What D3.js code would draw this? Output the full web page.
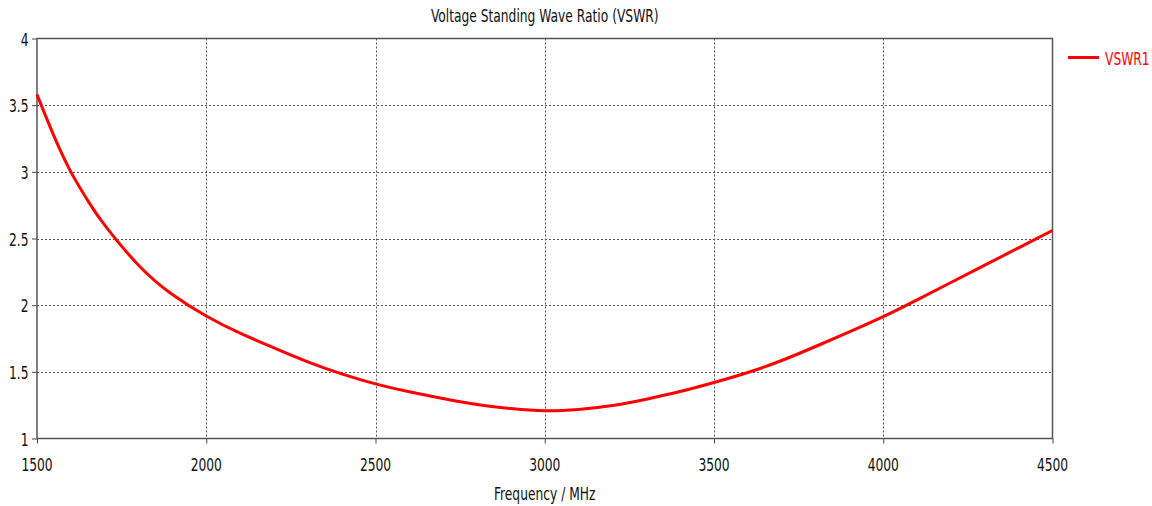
<!DOCTYPE html>
<html>
<head>
<meta charset="utf-8">
<script src="https://cdn.jsdelivr.net/npm/d3@7"></script>
<style>
  body { margin: 0; background: #fff; }
  text { font-family: "DejaVu Sans Condensed", "DejaVu Sans", sans-serif; }
</style>
</head>
<body>
<div id="chart"></div>
<script>
// values
const freqs = [1500, 1550, 1600, 1650, 1700, 1800, 1900, 2000, 2100, 2200, 2300, 2400, 2500,
               2600, 2700, 2800, 2900, 3000, 3100, 3200, 3300, 3400, 3500,
               3600, 3700, 3800, 3900, 4000, 4100, 4200, 4300, 4400, 4500];
const vswr1 = [3.58, 3.27, 3.00, 2.785, 2.60, 2.30, 2.08, 1.919, 1.79, 1.68, 1.575, 1.485, 1.41,
               1.35, 1.30, 1.255, 1.225, 1.208, 1.218, 1.247, 1.295, 1.352, 1.42,
               1.495, 1.585, 1.69, 1.80, 1.914, 2.04, 2.17, 2.30, 2.43, 2.56];
const xTicks = [1500, 2000, 2500, 3000, 3500, 4000, 4500];
const yTicks = [1, 1.5, 2, 2.5, 3, 3.5, 4];
const seriesName = "VSWR1";
const title = "Voltage Standing Wave Ratio (VSWR)";
const xLabel = "Frequency / MHz";

const width = 1152, height = 506;
const margin = { top: 38.5, right: 99.5, bottom: 67.5, left: 37 };
const fontSize = 17.5, squeeze = 0.78;

const svg = d3.select("#chart").append("svg")
    .attr("width", width)
    .attr("height", height);

const x = d3.scaleLinear().domain([1500, 4500]).range([margin.left, width - margin.right]);
const y = d3.scaleLinear().domain([1, 4]).range([height - margin.bottom, margin.top]);

// squeezed text, the reference glyphs are narrow and tall
function label(g, tx, ty, str, anchor, color) {
    return g.append("text")
        .attr("transform", `translate(${tx},${ty}) scale(${squeeze},1)`)
        .attr("text-anchor", anchor)
        .attr("font-size", fontSize)
        .attr("fill", color || "#111")
        .text(str);
}

// grid
const grid = svg.append("g").attr("stroke", "#555").attr("stroke-width", 1)
    .attr("stroke-dasharray", "2,2");
grid.selectAll(".vg").data(xTicks.slice(1, -1)).enter().append("line")
    .attr("x1", d => Math.round(x(d)) + 0.5).attr("x2", d => Math.round(x(d)) + 0.5)
    .attr("y1", y(4)).attr("y2", y(1));
grid.selectAll(".hg").data(yTicks.slice(1, -1)).enter().append("line")
    .attr("y1", d => Math.round(y(d)) + 0.5).attr("y2", d => Math.round(y(d)) + 0.5)
    .attr("x1", x(1500)).attr("x2", x(4500));

// axes
const xAxis = d3.axisBottom(x).tickValues(xTicks).tickSize(5).tickFormat("");
const yAxis = d3.axisLeft(y).tickValues(yTicks).tickSize(5).tickFormat("");

const gx = svg.append("g").attr("transform", `translate(0,${y(1)})`).call(xAxis);
const gy = svg.append("g").attr("transform", `translate(${x(1500)},0)`).call(yAxis);
[gx, gy].forEach(g => {
    g.select(".domain").remove();
    g.selectAll(".tick line").attr("stroke", "#444");
});

// frame
svg.append("rect")
    .attr("x", x(1500)).attr("y", y(4))
    .attr("width", x(4500) - x(1500)).attr("height", y(1) - y(4))
    .attr("fill", "none").attr("stroke", "#555").attr("stroke-width", 1.5);

xTicks.forEach(d => label(svg, x(d), y(1) + 32.5, d, "middle"));
yTicks.forEach(d => label(svg, x(1500) - 8.5, y(d) + 7, d, "end"));

// curve
const line = d3.line()
    .curve(d3.curveNatural)
    .x((d, i) => x(freqs[i]))
    .y(d => y(d));

svg.append("path")
    .datum(vswr1)
    .attr("fill", "none")
    .attr("stroke", "#ff0000")
    .attr("stroke-width", 3)
    .attr("d", line);

// titles
label(svg, (x(1500) + x(4500)) / 2, 21.5, title, "middle");
label(svg, (x(1500) + x(4500)) / 2, 500, xLabel, "middle");

// legend
svg.append("line")
    .attr("x1", 1068).attr("x2", 1099).attr("y1", 57.5).attr("y2", 57.5)
    .attr("stroke", "#ff0000").attr("stroke-width", 3);
label(svg, 1105, 65, seriesName, "start", "#ff0000");
</script>
</body>
</html>
